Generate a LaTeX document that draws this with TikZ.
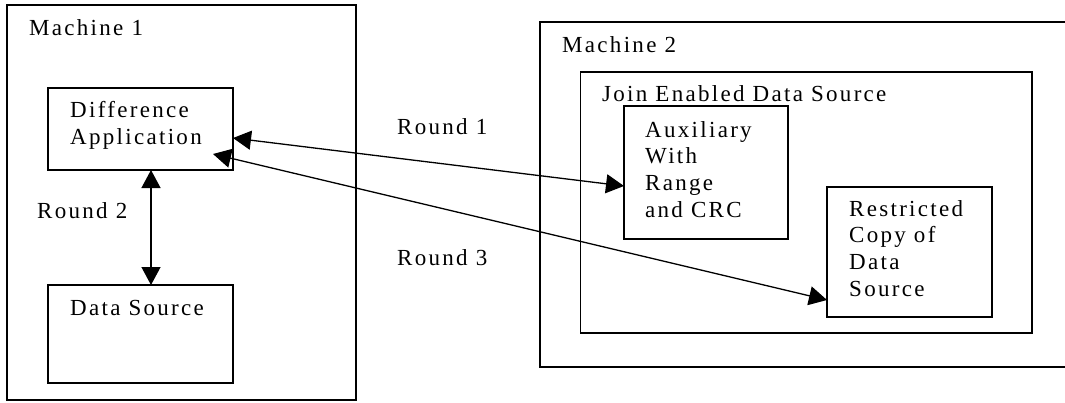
\documentclass[tikz,border=0pt]{standalone}
\usepackage{fontspec}
\setmainfont{Liberation Serif}[LetterSpace=10,Ligatures=CommonOff]
\usetikzlibrary{arrows.meta}

\begin{document}
\begin{tikzpicture}[x=1pt,y=-1pt,
  frame/.style={draw=black,line width=1.3pt,rectangle,inner sep=0pt,outer sep=0pt,anchor=north west},
  txt/.style={anchor=base west,inner sep=0pt,font=\fontsize{23}{27}\selectfont},
  link/.style={line width=1.3pt,{Triangle[length=18pt,width=19pt]}-{Triangle[length=18pt,width=19pt]}}]
  \useasboundingbox (0,0) rectangle (1065,402);
  \clip (0,0) rectangle (1065,402);

  % Machine 1 and its parts
  \node[frame,minimum width=349pt,minimum height=395pt] (m1) at (7,5) {};
  \node[txt] (m1t) at (29,35) {Machine 1};
  \node[frame,minimum width=185pt,minimum height=82pt] (diff) at (48,88) {};
  \node[txt] (diff1) at (70,117) {Difference};
  \node[txt] (diff2) at (70,144) {Application};
  \node[frame,minimum width=185pt,minimum height=98pt] (ds) at (48,285) {};
  \node[txt] (dst) at (70,315) {Data Source};
  \node[txt] (r2) at (37,218) {Round 2};

  % Machine 2 and the join enabled data source
  \node[frame,minimum width=540pt,minimum height=345pt] (m2) at (540,22) {};
  \node[txt] (m2t) at (562,52) {Machine 2};
  \node[frame,minimum width=451.5pt,minimum height=261pt] (join) at (580.5,72) {};
  \node[txt] (joint) at (602,101.5) {Join Enabled Data Source};
  \node[frame,minimum width=164pt,minimum height=133pt] (aux) at (624,106) {};
  \node[txt] (aux1) at (645,137) {Auxiliary};
  \node[txt] (aux2) at (645,163) {With};
  \node[txt] (aux3) at (645,190) {Range};
  \node[txt] (aux4) at (645,217) {and CRC};
  \node[frame,minimum width=165pt,minimum height=130pt] (restr) at (827,187) {};
  \node[txt] (res1) at (849,216) {Restricted};
  \node[txt] (res2) at (849,242) {Copy of};
  \node[txt] (res3) at (849,269) {Data};
  \node[txt] (res4) at (849,296) {Source};

  % round labels
  \node[txt] (r1) at (397,134) {Round 1};
  \node[txt] (r3) at (397,265) {Round 3};

  % connectors
  \draw[link] ([yshift=-9pt]diff.east) -- ([yshift=-13.5pt]aux.west);
  \draw[link] ([xshift=10.5pt]diff.south) -- ([xshift=10.5pt]ds.north);
  \draw[link] ([xshift=-20pt,yshift=16pt]diff.south east) -- ([yshift=-48pt]restr.west);
\end{tikzpicture}
\end{document}
